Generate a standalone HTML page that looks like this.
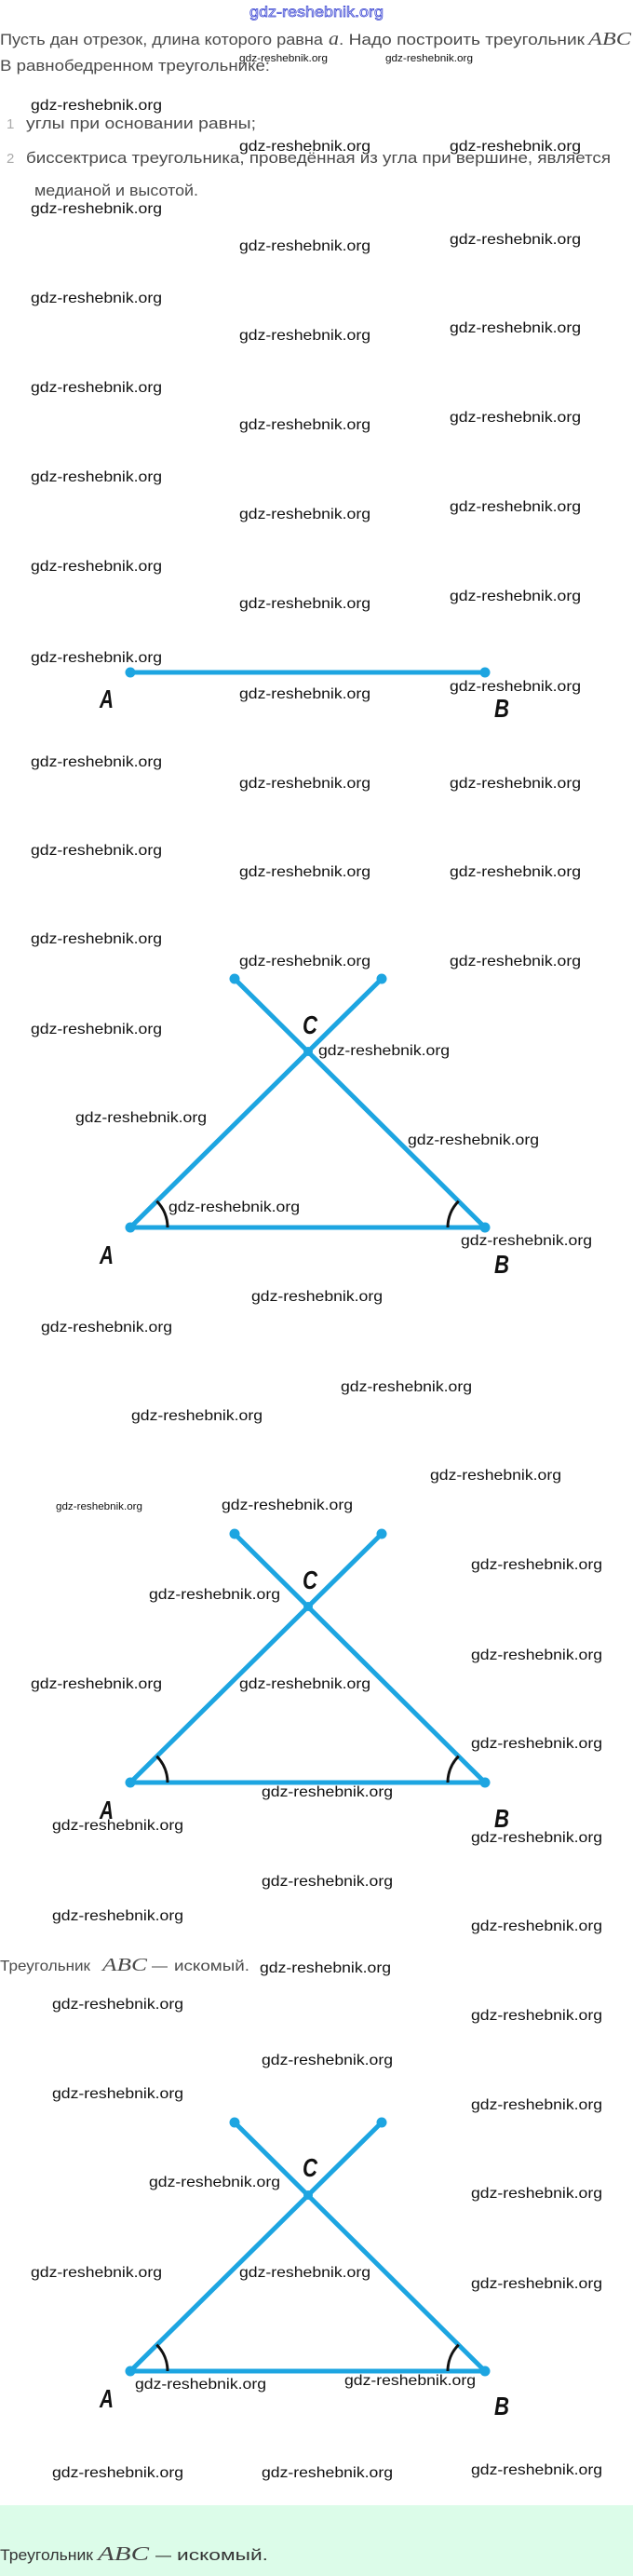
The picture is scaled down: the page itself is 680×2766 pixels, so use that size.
<!DOCTYPE html>
<html>
<head>
<meta charset="utf-8">
<style>
  html,body{margin:0;padding:0;background:#fff;}
  body{width:680px;height:2766px;overflow:hidden;position:relative;}
  svg{position:absolute;left:0;top:0;display:block;}
  .t{font-family:"Liberation Sans","DejaVu Sans",sans-serif;fill:#4a4a4a;}
  .m{font-family:"Liberation Serif",serif;font-style:italic;fill:#4a4a4a;}
  .w{font-family:"Liberation Sans Narrow","Liberation Sans",sans-serif;font-size:16px;fill:#111;}
  .ws{font-family:"Liberation Sans Narrow","Liberation Sans",sans-serif;font-size:11px;fill:#111;}
  .L{font-family:"Liberation Sans Narrow","Liberation Sans",sans-serif;font-size:28px;font-weight:bold;font-style:italic;fill:#111;}
  .ln{stroke:#1da5e1;stroke-width:5;fill:none;stroke-linecap:round;}
  .dt{fill:#1da5e1;}
  .arc{stroke:#111;stroke-width:3;fill:none;}
</style>
</head>
<body>
<svg width="680" height="2766" viewBox="0 0 680 2766" xmlns="http://www.w3.org/2000/svg">
  <!-- header -->
  <text x="268" y="18" font-family="Liberation Sans, sans-serif" font-size="16" fill="#eef0ff" stroke="#3540d0" stroke-width="0.7" textLength="144" lengthAdjust="spacingAndGlyphs">gdz-reshebnik.org</text>

  <!-- intro -->
  <text class="t" x="0" y="48" font-size="17" textLength="347" lengthAdjust="spacingAndGlyphs">Пусть дан отрезок, длина которого равна</text>
  <text class="m" x="353" y="48" font-size="20" textLength="11" lengthAdjust="spacingAndGlyphs">a</text>
  <text class="t" x="364" y="48" font-size="17" textLength="264" lengthAdjust="spacingAndGlyphs">. Надо построить треугольник</text>
  <text class="m" x="632" y="48" font-size="20" textLength="46" lengthAdjust="spacingAndGlyphs">ABC</text>
  <text class="t" x="0" y="76" font-size="17" textLength="290" lengthAdjust="spacingAndGlyphs">В равнобедренном треугольнике:</text>

  <text class="ws" x="257" y="66" textLength="95" lengthAdjust="spacingAndGlyphs">gdz-reshebnik.org</text>
  <text class="ws" x="414" y="66" textLength="94" lengthAdjust="spacingAndGlyphs">gdz-reshebnik.org</text>

  <text class="t" x="7" y="138" font-size="15" style="fill:#aaa">1</text>
  <text class="t" x="28" y="138" font-size="16.5" textLength="247" lengthAdjust="spacingAndGlyphs">углы при основании равны;</text>
  <text class="t" x="7" y="175" font-size="15" style="fill:#aaa">2</text>
  <text class="t" x="28" y="175" font-size="16.5" textLength="628" lengthAdjust="spacingAndGlyphs">биссектриса треугольника, проведённая из угла при вершине, является</text>
  <text class="t" x="37" y="210" font-size="16.5" textLength="176" lengthAdjust="spacingAndGlyphs">медианой и высотой.</text>

  <!-- watermarks top -->
  <g>
    <text class="w" x="33" y="118" textLength="141" lengthAdjust="spacingAndGlyphs">gdz-reshebnik.org</text>
    <text class="w" x="257" y="162" textLength="141" lengthAdjust="spacingAndGlyphs">gdz-reshebnik.org</text>
    <text class="w" x="483" y="162" textLength="141" lengthAdjust="spacingAndGlyphs">gdz-reshebnik.org</text>
    <text class="w" x="33" y="229" textLength="141" lengthAdjust="spacingAndGlyphs">gdz-reshebnik.org</text>

    <text class="w" x="257" y="269" textLength="141" lengthAdjust="spacingAndGlyphs">gdz-reshebnik.org</text>
    <text class="w" x="257" y="365" textLength="141" lengthAdjust="spacingAndGlyphs">gdz-reshebnik.org</text>
    <text class="w" x="257" y="461" textLength="141" lengthAdjust="spacingAndGlyphs">gdz-reshebnik.org</text>
    <text class="w" x="257" y="557" textLength="141" lengthAdjust="spacingAndGlyphs">gdz-reshebnik.org</text>
    <text class="w" x="257" y="653" textLength="141" lengthAdjust="spacingAndGlyphs">gdz-reshebnik.org</text>
    <text class="w" x="257" y="750" textLength="141" lengthAdjust="spacingAndGlyphs">gdz-reshebnik.org</text>

    <text class="w" x="483" y="262" textLength="141" lengthAdjust="spacingAndGlyphs">gdz-reshebnik.org</text>
    <text class="w" x="483" y="357" textLength="141" lengthAdjust="spacingAndGlyphs">gdz-reshebnik.org</text>
    <text class="w" x="483" y="453" textLength="141" lengthAdjust="spacingAndGlyphs">gdz-reshebnik.org</text>
    <text class="w" x="483" y="549" textLength="141" lengthAdjust="spacingAndGlyphs">gdz-reshebnik.org</text>
    <text class="w" x="483" y="645" textLength="141" lengthAdjust="spacingAndGlyphs">gdz-reshebnik.org</text>
    <text class="w" x="483" y="742" textLength="141" lengthAdjust="spacingAndGlyphs">gdz-reshebnik.org</text>

    <text class="w" x="33" y="325" textLength="141" lengthAdjust="spacingAndGlyphs">gdz-reshebnik.org</text>
    <text class="w" x="33" y="421" textLength="141" lengthAdjust="spacingAndGlyphs">gdz-reshebnik.org</text>
    <text class="w" x="33" y="517" textLength="141" lengthAdjust="spacingAndGlyphs">gdz-reshebnik.org</text>
    <text class="w" x="33" y="613" textLength="141" lengthAdjust="spacingAndGlyphs">gdz-reshebnik.org</text>
    <text class="w" x="33" y="711" textLength="141" lengthAdjust="spacingAndGlyphs">gdz-reshebnik.org</text>

    <text class="w" x="33" y="823" textLength="141" lengthAdjust="spacingAndGlyphs">gdz-reshebnik.org</text>
    <text class="w" x="33" y="918" textLength="141" lengthAdjust="spacingAndGlyphs">gdz-reshebnik.org</text>
    <text class="w" x="33" y="1013" textLength="141" lengthAdjust="spacingAndGlyphs">gdz-reshebnik.org</text>
    <text class="w" x="33" y="1110" textLength="141" lengthAdjust="spacingAndGlyphs">gdz-reshebnik.org</text>
    <text class="w" x="257" y="846" textLength="141" lengthAdjust="spacingAndGlyphs">gdz-reshebnik.org</text>
    <text class="w" x="257" y="941" textLength="141" lengthAdjust="spacingAndGlyphs">gdz-reshebnik.org</text>
    <text class="w" x="257" y="1037" textLength="141" lengthAdjust="spacingAndGlyphs">gdz-reshebnik.org</text>
    <text class="w" x="483" y="846" textLength="141" lengthAdjust="spacingAndGlyphs">gdz-reshebnik.org</text>
    <text class="w" x="483" y="941" textLength="141" lengthAdjust="spacingAndGlyphs">gdz-reshebnik.org</text>
    <text class="w" x="483" y="1037" textLength="141" lengthAdjust="spacingAndGlyphs">gdz-reshebnik.org</text>
  </g>

  <!-- segment AB -->
  <line class="ln" x1="140" y1="722" x2="521" y2="722"/>
  <circle class="dt" cx="140" cy="722" r="5.5"/>
  <circle class="dt" cx="521" cy="722" r="5.5"/>
  <text class="L" x="107" y="760" textLength="15" lengthAdjust="spacingAndGlyphs">A</text>
  <text class="L" x="531" y="770" textLength="16" lengthAdjust="spacingAndGlyphs">B</text>

  <!-- triangle 1 -->
  <g transform="translate(0,1129)">
    <line class="ln" x1="140" y1="189" x2="410" y2="-78"/>
    <line class="ln" x1="521" y1="189" x2="252" y2="-78"/>
    <line class="ln" x1="140" y1="189" x2="521" y2="189"/>
    <circle class="dt" cx="140" cy="189" r="5.5"/>
    <circle class="dt" cx="521" cy="189" r="5.5"/>
    <circle class="dt" cx="252" cy="-78" r="5.5"/>
    <circle class="dt" cx="410" cy="-78" r="5.5"/>
    <circle class="dt" cx="331" cy="0" r="5"/>
    <path class="arc" d="M180,189 A40,40 0 0 0 168.3,160.7"/>
    <path class="arc" d="M481,189 A40,40 0 0 1 492.7,160.7"/>
    <text class="L" x="325" y="-19" textLength="16" lengthAdjust="spacingAndGlyphs">C</text>
    <text class="L" x="107" y="228" textLength="15" lengthAdjust="spacingAndGlyphs">A</text>
    <text class="L" x="531" y="238" textLength="16" lengthAdjust="spacingAndGlyphs">B</text>
  </g>
  <text class="w" x="342" y="1133" textLength="141" lengthAdjust="spacingAndGlyphs">gdz-reshebnik.org</text>
  <text class="w" x="81" y="1205" textLength="141" lengthAdjust="spacingAndGlyphs">gdz-reshebnik.org</text>
  <text class="w" x="438" y="1229" textLength="141" lengthAdjust="spacingAndGlyphs">gdz-reshebnik.org</text>
  <text class="w" x="181" y="1301" textLength="141" lengthAdjust="spacingAndGlyphs">gdz-reshebnik.org</text>
  <text class="w" x="495" y="1337" textLength="141" lengthAdjust="spacingAndGlyphs">gdz-reshebnik.org</text>
  <text class="w" x="270" y="1397" textLength="141" lengthAdjust="spacingAndGlyphs">gdz-reshebnik.org</text>
  <text class="w" x="44" y="1430" textLength="141" lengthAdjust="spacingAndGlyphs">gdz-reshebnik.org</text>
  <text class="w" x="366" y="1494" textLength="141" lengthAdjust="spacingAndGlyphs">gdz-reshebnik.org</text>
  <text class="w" x="141" y="1525" textLength="141" lengthAdjust="spacingAndGlyphs">gdz-reshebnik.org</text>

  <!-- triangle 2 -->
  <g transform="translate(0,1725)">
    <line class="ln" x1="140" y1="189" x2="410" y2="-78"/>
    <line class="ln" x1="521" y1="189" x2="252" y2="-78"/>
    <line class="ln" x1="140" y1="189" x2="521" y2="189"/>
    <circle class="dt" cx="140" cy="189" r="5.5"/>
    <circle class="dt" cx="521" cy="189" r="5.5"/>
    <circle class="dt" cx="252" cy="-78" r="5.5"/>
    <circle class="dt" cx="410" cy="-78" r="5.5"/>
    <circle class="dt" cx="331" cy="0" r="5"/>
    <path class="arc" d="M180,189 A40,40 0 0 0 168.3,160.7"/>
    <path class="arc" d="M481,189 A40,40 0 0 1 492.7,160.7"/>
    <text class="L" x="325" y="-19" textLength="16" lengthAdjust="spacingAndGlyphs">C</text>
    <text class="L" x="107" y="228" textLength="15" lengthAdjust="spacingAndGlyphs">A</text>
    <text class="L" x="531" y="237" textLength="16" lengthAdjust="spacingAndGlyphs">B</text>
  </g>
  <text class="w" x="462" y="1589" textLength="141" lengthAdjust="spacingAndGlyphs">gdz-reshebnik.org</text>
  <text class="ws" x="60" y="1621" textLength="93" lengthAdjust="spacingAndGlyphs">gdz-reshebnik.org</text>
  <text class="w" x="238" y="1621" textLength="141" lengthAdjust="spacingAndGlyphs">gdz-reshebnik.org</text>
  <text class="w" x="506" y="1685" textLength="141" lengthAdjust="spacingAndGlyphs">gdz-reshebnik.org</text>
  <text class="w" x="160" y="1717" textLength="141" lengthAdjust="spacingAndGlyphs">gdz-reshebnik.org</text>
  <text class="w" x="506" y="1782" textLength="141" lengthAdjust="spacingAndGlyphs">gdz-reshebnik.org</text>
  <text class="w" x="33" y="1813" textLength="141" lengthAdjust="spacingAndGlyphs">gdz-reshebnik.org</text>
  <text class="w" x="257" y="1813" textLength="141" lengthAdjust="spacingAndGlyphs">gdz-reshebnik.org</text>
  <text class="w" x="506" y="1877" textLength="141" lengthAdjust="spacingAndGlyphs">gdz-reshebnik.org</text>
  <text class="w" x="281" y="1929" textLength="141" lengthAdjust="spacingAndGlyphs">gdz-reshebnik.org</text>
  <text class="w" x="56" y="1965" textLength="141" lengthAdjust="spacingAndGlyphs">gdz-reshebnik.org</text>
  <text class="w" x="506" y="1978" textLength="141" lengthAdjust="spacingAndGlyphs">gdz-reshebnik.org</text>

  <text class="w" x="281" y="2025" textLength="141" lengthAdjust="spacingAndGlyphs">gdz-reshebnik.org</text>
  <text class="w" x="56" y="2062" textLength="141" lengthAdjust="spacingAndGlyphs">gdz-reshebnik.org</text>
  <text class="w" x="506" y="2073" textLength="141" lengthAdjust="spacingAndGlyphs">gdz-reshebnik.org</text>
  <text class="w" x="279" y="2118" textLength="141" lengthAdjust="spacingAndGlyphs">gdz-reshebnik.org</text>
  <text class="w" x="56" y="2157" textLength="141" lengthAdjust="spacingAndGlyphs">gdz-reshebnik.org</text>
  <text class="w" x="506" y="2169" textLength="141" lengthAdjust="spacingAndGlyphs">gdz-reshebnik.org</text>
  <text class="w" x="281" y="2217" textLength="141" lengthAdjust="spacingAndGlyphs">gdz-reshebnik.org</text>
  <text class="w" x="56" y="2253" textLength="141" lengthAdjust="spacingAndGlyphs">gdz-reshebnik.org</text>
  <text class="w" x="506" y="2265" textLength="141" lengthAdjust="spacingAndGlyphs">gdz-reshebnik.org</text>
  <text class="w" x="160" y="2348" textLength="141" lengthAdjust="spacingAndGlyphs">gdz-reshebnik.org</text>
  <text class="w" x="506" y="2360" textLength="141" lengthAdjust="spacingAndGlyphs">gdz-reshebnik.org</text>

  <!-- mid text -->
  <text class="t" x="0" y="2116" font-size="16" textLength="97" lengthAdjust="spacingAndGlyphs">Треугольник</text>
  <text class="m" x="110" y="2116" font-size="20" textLength="48" lengthAdjust="spacingAndGlyphs">ABC</text>
  <text class="t" x="163" y="2116" font-size="16" textLength="17" lengthAdjust="spacingAndGlyphs">—</text>
  <text class="t" x="187" y="2116" font-size="16" textLength="81" lengthAdjust="spacingAndGlyphs">искомый.</text>

  <!-- triangle 3 -->
  <g transform="translate(0,2357)">
    <line class="ln" x1="140" y1="189" x2="410" y2="-78"/>
    <line class="ln" x1="521" y1="189" x2="252" y2="-78"/>
    <line class="ln" x1="140" y1="189" x2="521" y2="189"/>
    <circle class="dt" cx="140" cy="189" r="5.5"/>
    <circle class="dt" cx="521" cy="189" r="5.5"/>
    <circle class="dt" cx="252" cy="-78" r="5.5"/>
    <circle class="dt" cx="410" cy="-78" r="5.5"/>
    <circle class="dt" cx="331" cy="0" r="5"/>
    <path class="arc" d="M180,189 A40,40 0 0 0 168.3,160.7"/>
    <path class="arc" d="M481,189 A40,40 0 0 1 492.7,160.7"/>
    <text class="L" x="325" y="-20" textLength="16" lengthAdjust="spacingAndGlyphs">C</text>
    <text class="L" x="107" y="228" textLength="15" lengthAdjust="spacingAndGlyphs">A</text>
    <text class="L" x="531" y="236" textLength="16" lengthAdjust="spacingAndGlyphs">B</text>
  </g>
  <text class="w" x="33" y="2445" textLength="141" lengthAdjust="spacingAndGlyphs">gdz-reshebnik.org</text>
  <text class="w" x="257" y="2445" textLength="141" lengthAdjust="spacingAndGlyphs">gdz-reshebnik.org</text>
  <text class="w" x="506" y="2457" textLength="141" lengthAdjust="spacingAndGlyphs">gdz-reshebnik.org</text>
  <text class="w" x="145" y="2565" textLength="141" lengthAdjust="spacingAndGlyphs">gdz-reshebnik.org</text>
  <text class="w" x="370" y="2561" textLength="141" lengthAdjust="spacingAndGlyphs">gdz-reshebnik.org</text>
  <text class="w" x="56" y="2660" textLength="141" lengthAdjust="spacingAndGlyphs">gdz-reshebnik.org</text>
  <text class="w" x="281" y="2660" textLength="141" lengthAdjust="spacingAndGlyphs">gdz-reshebnik.org</text>
  <text class="w" x="506" y="2657" textLength="141" lengthAdjust="spacingAndGlyphs">gdz-reshebnik.org</text>

  <!-- bottom green band -->
  <rect x="0" y="2690" width="680" height="76" fill="#dcfce9"/>
  <text class="t" x="0" y="2749" font-size="17" textLength="100" lengthAdjust="spacingAndGlyphs" style="fill:#333">Треугольник</text>
  <text class="m" x="105" y="2749" font-size="21" textLength="55" lengthAdjust="spacingAndGlyphs" style="fill:#444">ABC</text>
  <text class="t" x="167" y="2749" font-size="17" textLength="17" lengthAdjust="spacingAndGlyphs" style="fill:#333">—</text>
  <text class="t" x="190" y="2749" font-size="17" textLength="98" lengthAdjust="spacingAndGlyphs" style="fill:#333">искомый.</text>
</svg>
</body>
</html>
